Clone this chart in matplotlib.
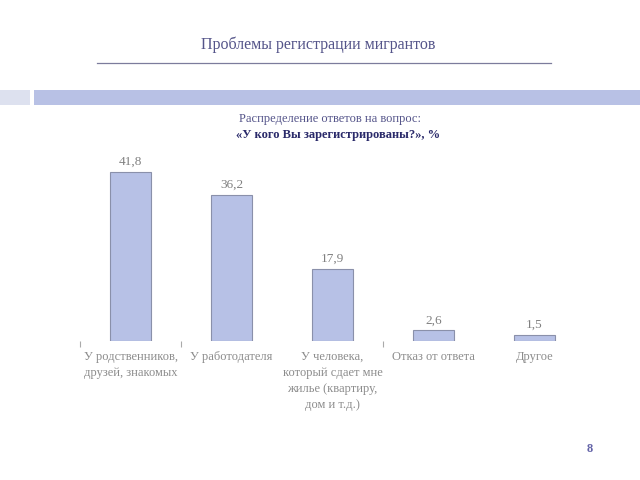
import matplotlib
matplotlib.use("Agg")
import matplotlib.pyplot as plt
from matplotlib.patches import Rectangle
from matplotlib.lines import Line2D

categories = ["У родственников,\nдрузей, знакомых", "У работодателя",
              "У человека,\nкоторый сдает мне\nжилье (квартиру,\nдом и т.д.)",
              "Отказ от ответа", "Другое"]
values = [41.8, 36.2, 17.9, 2.6, 1.5]
value_labels = ["41,8", "36,2", "17,9", "2,6", "1,5"]

plt.rcParams['font.family'] = ['Liberation Serif', 'DejaVu Serif']

fig = plt.figure(figsize=(6.4, 4.8), dpi=100)
W, H = 640, 480

def fx(x): return x / W
def fy(y): return 1 - y / H

# Title
fig.text(fx(318), fy(45), "Проблемы регистрации мигрантов", ha='center', va='center',
         fontsize=11.5, color='#55558a')
fig.add_artist(Line2D([fx(97), fx(551)], [fy(63), fy(63)], color='#7c7c9c', lw=0.9))
# Decorative bands
fig.add_artist(Rectangle((fx(0), fy(105)), fx(30), 15 / H, color='#dde1ef', lw=0))
fig.add_artist(Rectangle((fx(34), fy(105)), fx(606), 15 / H, color='#b8c1e5', lw=0))

# Subtitle
fig.text(fx(330), fy(119), "Распределение ответов на вопрос:", ha='center', va='center',
         fontsize=9, color='#55558a')
fig.text(fx(338), fy(135), "«У кого Вы зарегистрированы?», %", ha='center', va='center',
         fontsize=9, color='#2a2a6a', fontweight='bold')

# Chart
left, right, base = 80, 585, 341
ymax = 50
scale = 169 / 41.8
top = base - ymax * scale
ax = fig.add_axes([fx(left), fy(base), (right - left) / W, (base - top) / H])
x = list(range(len(values)))
ax.bar(x, values, width=0.4, color='#b7c1e6', edgecolor='#8a90aa', linewidth=0.8)
for xi, v, lab in zip(x, values, value_labels):
    ax.text(xi, v + 1.0, lab, ha='center', va='bottom', fontsize=9.5, color='#808080')
ax.set_xlim(-0.5, 4.5)
ax.set_ylim(0, ymax)
for s in ax.spines.values():
    s.set_visible(False)
ax.set_yticks([])
ax.set_xticks(x)
ax.set_xticklabels(categories, fontsize=9, color='#8c8c8c', linespacing=1.45)
ax.tick_params(axis='x', which='major', length=0, pad=7)
ax.set_xticks([-0.5, 0.5, 2.5], minor=True)
ax.tick_params(axis='x', which='minor', length=4, color='#aaaaaa', width=0.8)

# Page number
fig.text(fx(590), fy(449), "8", ha='center', va='center', fontsize=9, color='#6464a8',
         fontweight='bold')

fig.savefig("out.png", dpi=100)
